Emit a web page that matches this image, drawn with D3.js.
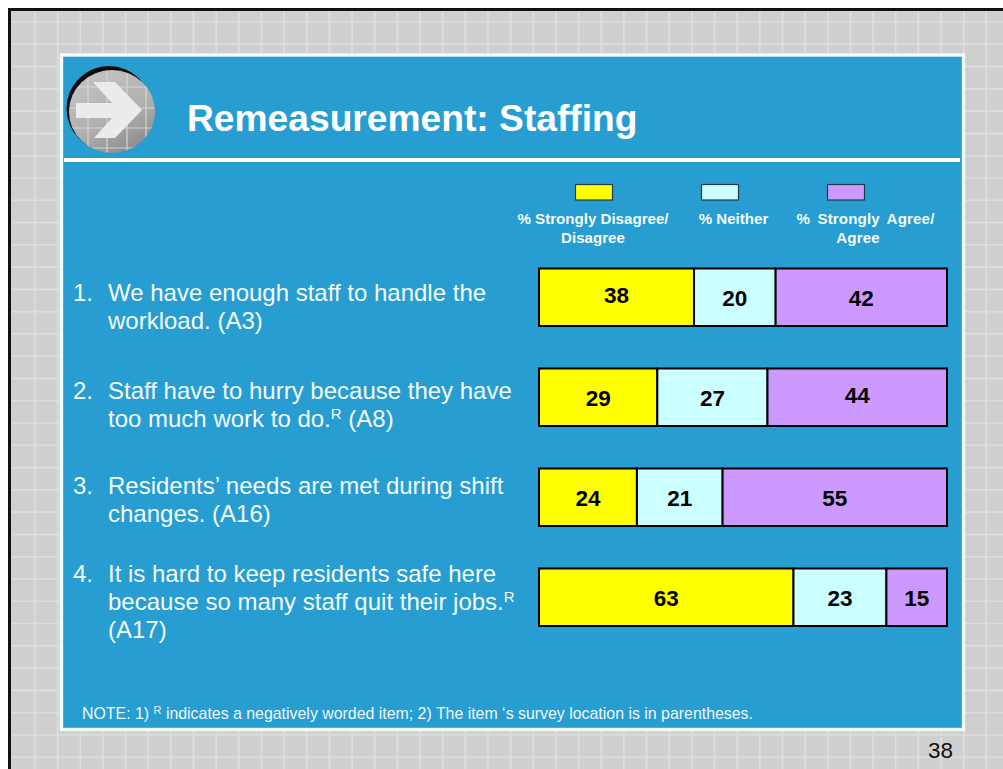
<!DOCTYPE html>
<html><head><meta charset="utf-8">
<script src="https://d3js.org/d3.v7.min.js"></script>
<style>html,body{margin:0;padding:0;background:#fff}svg{display:block;font-family:"Liberation Sans",Arial,sans-serif}</style>
</head><body><svg id="c" width="1003" height="769"></svg>
<script>
const categories = ["1","2","3","4"];
const seriesKeys = ["disagree","neither","agree"];
const disagree = [38,29,24,63];
const neither = [20,27,21,23];
const agree = [42,44,55,15];
const seriesColors = ["#ffff00","#ccffff","#cc99ff"];
const legendLabels = [["% Strongly Disagree/","Disagree"],["% Neither"],["% Strongly Agree/","Agree"]];
const itemLines = [
 [["We have enough staff to handle the"],["workload. (A3)"]],
 [["Staff have to hurry because they have"],["too much work to do.","R"," (A8)"]],
 [["Residents’ needs are met during shift"],["changes. (A16)"]],
 [["It is hard to keep residents safe here"],["because so many staff quit their jobs.","R"],["(A17)"]]
];
const titleText = "Remeasurement: Staffing";
const pageNumber = "38";

const svg = d3.select("#c");
const table = categories.map((c,i)=>({cat:c,disagree:disagree[i],neither:neither[i],agree:agree[i]}));

// background grid
svg.append("rect").attr("x",9).attr("y",9).attr("width",994).attr("height",760).attr("fill","#cfcfcf");
const gridX = d3.range(35,1003,22.65), gridY = d3.range(22,769,22.28);
const gridG = svg.append("g").attr("stroke","#dedede").attr("stroke-width",1.6);
gridG.selectAll("line.v").data(gridX).join("line").attr("x1",d=>d).attr("x2",d=>d).attr("y1",10).attr("y2",769);
gridG.selectAll("line.h").data(gridY).join("line").attr("y1",d=>d).attr("y2",d=>d).attr("x1",10).attr("x2",1003);
// slide frame
svg.append("path").attr("d","M9.5,769V9.5H1003").attr("fill","none").attr("stroke","#111").attr("stroke-width",3);

// panel
svg.append("rect").attr("x",61.5).attr("y",55).attr("width",902).attr("height",674.5).attr("fill","#279dd2").attr("stroke","#f2fbfb").attr("stroke-width",3.4);
svg.append("rect").attr("x",64).attr("y",158).attr("width",896).attr("height",4).attr("fill","#fff");

// icon
const defs = svg.append("defs");
const grad = defs.append("linearGradient").attr("id","ball").attr("x1",0.2).attr("y1",0).attr("x2",0.7).attr("y2",1);
grad.append("stop").attr("offset","0").attr("stop-color","#c8c8c8");
grad.append("stop").attr("offset","0.6").attr("stop-color","#b0b0b0");
grad.append("stop").attr("offset","1").attr("stop-color","#858585");
defs.append("clipPath").attr("id","ballClip").append("ellipse").attr("cx",112).attr("cy",111.5).attr("rx",43).attr("ry",41.5);
svg.append("circle").attr("cx",109).attr("cy",108.5).attr("r",42.5).attr("fill","#0a0a0a");
const icon = svg.append("g").attr("clip-path","url(#ballClip)");
icon.append("rect").attr("x",60).attr("y",60).attr("width",100).attr("height",100).attr("fill","url(#ball)");
icon.append("g").attr("stroke","#d4d4d4").attr("stroke-width",1.2).selectAll("line").data([88,107,127,146]).join("line")
  .attr("x1",d=>d).attr("x2",d=>d).attr("y1",60).attr("y2",160);
icon.append("g").attr("stroke","#d4d4d4").attr("stroke-width",1.2).selectAll("line").data([87,108,128,148]).join("line")
  .attr("y1",d=>d).attr("y2",d=>d).attr("x1",60).attr("x2",160);
icon.append("path").attr("d","M76,103H112L93,82H115L142,110L115,138H94L112,118H76Z").attr("fill","#ebebeb");

// title
svg.append("text").attr("x",187).attr("y",131).attr("font-size",37.2).attr("font-weight","bold").attr("fill","#fff").text(titleText);

// scales: each row fills the full bar width
const x = d3.scaleLinear().domain([0,1]).range([539,947]);
const y = d3.scaleBand().domain(categories).range([268.5,626]).paddingInner(0.425).paddingOuter(0);
const color = d3.scaleOrdinal().domain(seriesKeys).range(seriesColors);
const stack = d3.stack().keys(seriesKeys).offset(d3.stackOffsetExpand)(table);
const labelShift = d=>{
  const c=d.v.data.cat;
  if(c==="1") return d.key==="disagree"?-2:1;
  if(c==="2"&&d.key==="agree") return -2;
  return c==="4"||c==="3"||c==="2"?1:0;
};

const layers = svg.selectAll("g.layer").data(stack).join("g").attr("class","layer").attr("fill",d=>color(d.key));
layers.selectAll("rect").data(d=>d.map(v=>({v,key:d.key}))).join("rect")
  .attr("x",d=>x(d.v[0])).attr("width",d=>x(d.v[1])-x(d.v[0]))
  .attr("y",d=>y(d.v.data.cat)).attr("height",y.bandwidth())
  .attr("stroke","#000").attr("stroke-width",2);
layers.selectAll("text").data(d=>d.map(v=>({v,key:d.key}))).join("text")
  .attr("x",d=>(x(d.v[0])+x(d.v[1]))/2).attr("y",d=>y(d.v.data.cat)+y.bandwidth()/2+8+labelShift(d))
  .attr("text-anchor","middle").attr("font-size",22.5).attr("font-weight","bold").attr("fill","#000")
  .text(d=>d.v.data[d.key]);

// legend
const legX = d3.scaleOrdinal().domain(seriesKeys).range([594,720,846]);
const lg = svg.selectAll("g.leg").data(seriesKeys).join("g").attr("class","leg");
lg.append("rect").attr("x",d=>legX(d)-18.5).attr("y",184.5).attr("width",37).attr("height",15.5)
  .attr("fill",d=>color(d)).attr("stroke","#1d3b4a").attr("stroke-width",1.2);
lg.each(function(k,i){
  d3.select(this).selectAll("text").data(legendLabels[i]).join("text")
    .attr("x",(d,j)=> i===0 ? 593 : i===2 ? (j===0?865.5:858) : 733.5)
    .attr("y",(d,j)=>224+j*19).attr("text-anchor","middle").attr("font-size",15.1).attr("font-weight","bold")
    .attr("word-spacing",i===2?3:0).attr("letter-spacing",i===2?0.15:0).attr("fill","#f4fbfd").text(d=>d);
});

// items
const itemTop = d3.scaleOrdinal().domain(categories).range([301,399,493.5,581.5]);
const itemG = svg.selectAll("g.item").data(categories).join("g").attr("class","item");
itemG.each(function(c,i){
  const g=d3.select(this), y0=itemTop(c);
  g.append("text").attr("x",73).attr("y",y0).attr("font-size",24).attr("fill","#f4fbfd").text(c+".");
  itemLines[i].forEach((ln,j)=>{
    const t=g.append("text").attr("x",108).attr("y",y0+j*28.3).attr("font-size",24).attr("fill","#f4fbfd");
    ln.forEach((s,k)=>{ if(s==="R") t.append("tspan").attr("dy",-8).attr("font-size",15).text("R");
      else { const sp=t.append("tspan").text(s); if(k>0) sp.attr("dy",8);} });
  });
});

// note
const note = svg.append("text").attr("x",82).attr("y",719).attr("font-size",15.9).attr("fill","#eef8fb");
note.append("tspan").text("NOTE: 1) ");
note.append("tspan").attr("dy",-5).attr("font-size",11).text("R");
note.append("tspan").attr("dy",5).text(" indicates a negatively worded item; 2) The item ‘s survey location is in parentheses.");

svg.append("text").attr("x",953).attr("y",758).attr("text-anchor","end").attr("font-size",22.5).attr("fill","#111").text(pageNumber);
</script></body></html>
